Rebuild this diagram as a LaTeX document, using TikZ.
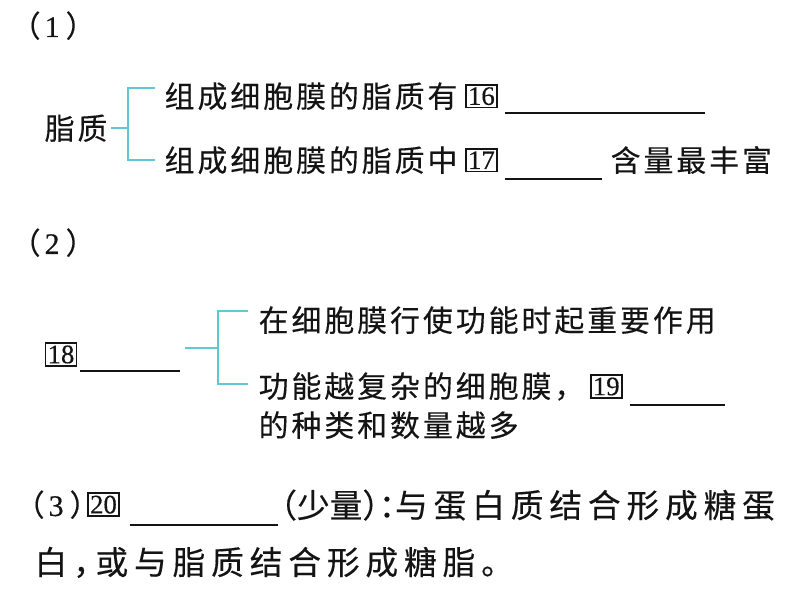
\documentclass[tikz,border=0pt]{standalone}
\usepackage{fontspec}
\newfontfamily\cjk[LetterSpace=10,FakeBold=0.3]{Noto Sans CJK SC}
\newfontfamily\cjkhalf[LetterSpace=18,FakeBold=0.3,RawFeature=+halt]{Noto Sans CJK SC}
\newfontfamily\cjkpunct[FakeBold=0.3,RawFeature=+halt]{Noto Sans CJK SC}
\newfontfamily\numfont[FakeBold=0.4]{Liberation Serif}
\usetikzlibrary{positioning}
\definecolor{bracecyan}{RGB}{95,200,210}
\definecolor{inkblack}{RGB}{20,20,20}
\newcommand{\partnum}[1]{{\cjkpunct （}\hspace{0.04cm}{\numfont #1}\hspace{0.06cm}{\cjkpunct ）}}

\begin{document}
\begin{tikzpicture}[
    every node/.style={inner sep=0pt, text=inkblack},
    txt/.style={anchor=base west, font=\cjk\fontsize{8.5pt}{10pt}\selectfont},
    para/.style={anchor=base west, font=\cjkhalf\fontsize{9.3pt}{11pt}\selectfont},
    partno/.style={anchor=base west, font=\fontsize{8.5pt}{10pt}\selectfont},
    numbox/.style={draw=inkblack, line width=0.45pt, inner xsep=0.6pt, inner ysep=0.7pt, font=\numfont\fontsize{7.6pt}{9pt}\selectfont},
    blank/.style={draw=inkblack, line width=0.6pt},
    brace/.style={draw=bracecyan, line width=0.6pt}
]
\useasboundingbox (0,0) rectangle (7.9,-6.1);

% (1) lipids
\node[partno] (p1) at (0.25,-0.37) {\partnum{1}};
\node[txt] (lip) at (0.44,-1.395) {脂质};
\node[txt] (r1) at (1.64,-1.075) {组成细胞膜的脂质有};
\node[numbox, right=0.07 of r1] (n16) {16};
\draw[blank] ([shift={(0.07,-0.05)}]n16.south east) -- ++(2.00,0);
\node[txt] (r2) at (1.64,-1.715) {组成细胞膜的脂质中};
\node[numbox, right=0.07 of r2] (n17) {17};
\draw[blank] ([shift={(0.07,-0.07)}]n17.south east) -- ++(0.97,0);
\node[txt] (r2b) at (6.10,-1.715) {含量最丰富};

\draw[brace] ([xshift=0.03cm]lip.east) -- ++(0.17,0) coordinate (j1);
\coordinate (t1) at (1.55,-0.88);
\coordinate (t2) at (1.55,-1.60);
\draw[brace] (t1) -| (j1) |- (t2);

% (2) proteins
\node[partno] (p2) at (0.25,-2.54) {\partnum{2}};
\node[numbox] (n18) at (0.61,-3.545) {18};
\draw[blank] ([shift={(0.03,-0.04)}]n18.south east) -- ++(1.00,0);
\coordinate (s18) at (1.85,-3.48);
\coordinate (j2) at (2.18,-3.48);
\draw[brace] (s18) -- (j2);
\coordinate (t3) at (2.48,-3.11);
\coordinate (t4) at (2.48,-3.84);
\draw[brace] (t3) -| (j2) |- (t4);

\node[txt] (ra) at (2.58,-3.315) {在细胞膜行使功能时起重要作用};
\node[txt] (rb) at (2.58,-3.975) {功能越复杂的细胞膜，};
\node[numbox, right=0.05 of rb] (n19) {19};
\draw[blank] ([shift={(0.07,-0.06)}]n19.south east) -- ++(0.95,0);
\node[txt] (rc) at (2.58,-4.365) {的种类和数量越多};

% (3) sugars
\node[partno] (p3) at (0.29,-5.16) {\partnum{3}};
\node[numbox, right=0.02 of p3] (n20) {20};
\draw[blank] ([shift={(0.10,-0.08)}]n20.south east) -- ++(1.48,0);
\node[para] (l3) at (2.80,-5.175) {{\cjkpunct （少量）：}与蛋白质结合形成糖蛋};
\node[para] (l4) at (0.34,-5.745) {白，或与脂质结合形成糖脂。};

\end{tikzpicture}
\end{document}
